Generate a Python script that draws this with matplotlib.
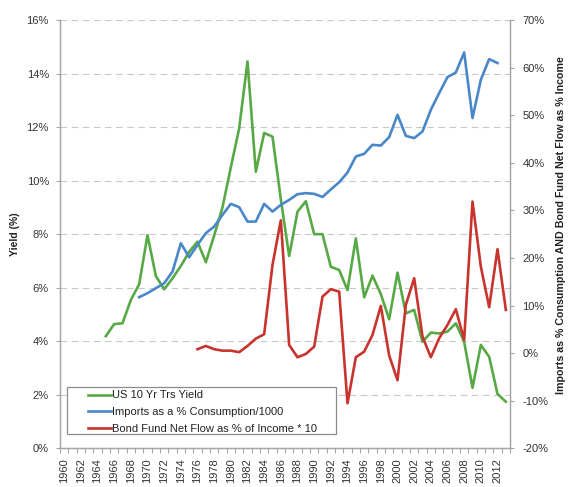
import matplotlib.pyplot as plt
from matplotlib.patches import Rectangle
from matplotlib.ticker import FixedLocator, PercentFormatter

plt.rcParams['font.family'] = ['Liberation Sans', 'DejaVu Sans']
plt.rcParams['axes.unicode_minus'] = False

# category axis: one slot per year
years = list(range(1960, 2014))
tick_years = list(range(1960, 2013, 2))

# US 10 yr treasury yield (left axis, %)
yield_years = list(range(1965, 2014))
yield_10yr = [4.19, 4.64, 4.67, 5.54, 6.13, 7.96, 6.44, 5.94, 6.35, 6.81,
              7.34, 7.72, 6.95, 7.95, 9.0, 10.5, 11.95, 14.45, 10.33, 11.78,
              11.64, 9.3, 7.18, 8.84, 9.23, 8.0, 8.0, 6.78, 6.66, 5.91,
              7.84, 5.64, 6.45, 5.76, 4.82, 6.56, 5.04, 5.17, 3.98, 4.32,
              4.29, 4.36, 4.67, 3.98, 2.26, 3.86, 3.42, 2.03, 1.74]

# imports as % of consumption / 1000 (right axis, %)
imports_years = list(range(1969, 2013))
imports_pct = [11.75, 12.59, 13.64, 14.69, 17.13, 23.1, 20.16, 22.75, 25.21, 26.59,
               29.05, 31.37, 30.67, 27.64, 27.64, 31.37, 29.75, 31.16, 32.2, 33.4,
               33.62, 33.47, 32.8, 34.4, 35.9, 37.95, 41.31, 41.88, 43.77, 43.62,
               45.39, 50.08, 45.66, 45.18, 46.57, 51.13, 54.64, 58.0, 58.97, 63.18,
               49.39, 57.44, 61.79, 60.95]

# bond fund net flow as % of income * 10 (right axis, %)
flow_years = list(range(1976, 2014))
bond_flow = [0.82, 1.51, 0.82, 0.52, 0.52, 0.19, 1.51, 3.05, 3.97, 18.54,
             27.9, 1.72, -0.87, -0.17, 1.36, 11.88, 13.43, 12.93, -10.54, -0.87,
             0.31, 3.82, 9.92, -0.5, -5.7, 10.13, 15.74, 3.47, -0.87, 3.13,
             5.93, 9.23, 2.77, 31.85, 18.18, 9.65, 21.84, 9.08]

labels = ['US 10 Yr Trs Yield',
          'Imports as a % Consumption/1000',
          'Bond Fund Net Flow as % of Income * 10']
colors = ['#57a945', '#4a87c9', '#c9332e']

W, H = 572, 487
fig = plt.figure(figsize=(W / 100, H / 100), dpi=100)
ax = fig.add_axes([60 / W, 1 - 448.3 / H, 450 / W, 428.3 / H])
ax2 = ax.twinx()

txt = '#333333'
spine_c = '#a6a6a6'

l1, = ax.plot(yield_years, yield_10yr, color=colors[0], lw=1.9, zorder=3)
l2, = ax2.plot(imports_years, imports_pct, color=colors[1], lw=1.9, zorder=3)
l3, = ax2.plot(flow_years, bond_flow, color=colors[2], lw=1.9, zorder=4)

ax.set_xlim(years[0] - 0.5, years[-1] + 0.5)
ax.set_ylim(0, 16)
ax2.set_ylim(-20, 70)

ax.set_yticks(range(0, 17, 2))
ax.yaxis.set_major_formatter(PercentFormatter(decimals=0))
ax2.set_yticks(range(-20, 71, 10))
ax2.yaxis.set_major_formatter(PercentFormatter(decimals=0))

ax.set_xticks(tick_years)
ax.set_xticklabels([str(y) for y in tick_years], rotation=90)
ax.xaxis.set_minor_locator(FixedLocator([y - 0.5 for y in years] + [years[-1] + 0.5]))
ax.tick_params(axis='x', which='major', length=0, pad=7, labelsize=8, labelcolor=txt)
ax.tick_params(axis='x', which='minor', length=3.5, width=0.8, color=spine_c, direction='out')
ax.tick_params(axis='y', length=3, width=0.8, color=spine_c, pad=5, labelsize=8, labelcolor=txt)
ax2.tick_params(axis='y', length=3, width=0.8, color=spine_c, pad=6, labelsize=8, labelcolor=txt)

ax.yaxis.grid(True, color='#c8c8c8', lw=0.8, linestyle=(0, (6, 4)))
ax.set_axisbelow(True)

for a in (ax, ax2):
    a.spines['top'].set_visible(False)
    for s in ('left', 'right', 'bottom'):
        a.spines[s].set_color(spine_c)
        a.spines[s].set_linewidth(0.9)

fig.text(15 / W, 1 - 234 / H, 'Yield (%)', rotation=90, ha='center', va='center',
         fontsize=7.5, fontweight='bold', color='#222222')
fig.text(561.5 / W, 1 - 225 / H, 'Imports as % Consumption AND Bond Fund Net Flow as % Income',
         rotation=90, ha='center', va='center', fontsize=7.7, fontweight='bold', color='#222222')

# legend box drawn separately so the padding matches the original
box = Rectangle((67.3 / W, 1 - 434 / H), (336 - 67.3) / W, (434 - 386.7) / H,
                transform=fig.transFigure, facecolor='white', edgecolor='#8c8c8c',
                lw=0.9, zorder=4)
fig.patches.append(box)
fig.legend([l1, l2, l3], labels, loc='upper left',
           bbox_to_anchor=(88.3 / W, 1 - 390.5 / H), frameon=False, borderpad=0,
           borderaxespad=0, handlelength=2.0, handletextpad=0.15, labelspacing=0.62,
           fontsize=8, labelcolor='#222222')

fig.savefig('out.png', dpi=100)
